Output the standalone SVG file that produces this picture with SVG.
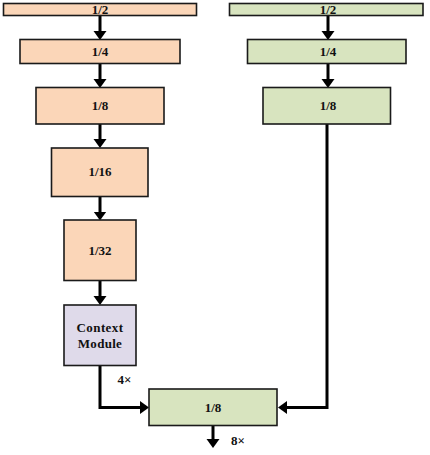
<svg xmlns="http://www.w3.org/2000/svg" width="430" height="455" viewBox="0 0 430 455">
<defs>
<marker id="ah" markerUnits="userSpaceOnUse" markerWidth="9" markerHeight="14" refX="1" refY="7" orient="auto" viewBox="0 0 9 14">
<path d="M0,0.5 L9,7 L0,13.5 Z" fill="#000"/>
</marker>
<style>
.or{fill:#FBD6B8;stroke:#1a1a1a;stroke-width:1.6}
.gr{fill:#D8E4BF;stroke:#1a1a1a;stroke-width:1.6}
.pu{fill:#DFDAEA;stroke:#1a1a1a;stroke-width:1.6}
text{font-family:'Liberation Serif','Times New Roman',serif;font-weight:bold;font-size:13px;fill:#111;text-anchor:middle}
.c{fill:none;stroke:#000;stroke-width:3;marker-end:url(#ah)}
</style>
</defs>
<rect width="430" height="455" fill="#fff"/>
<g id="connectors">
<path class="c" d="M100,15.5 V32"/>
<path class="c" d="M100,63.5 V80"/>
<path class="c" d="M100,124 V140"/>
<path class="c" d="M100,196.5 V212.5"/>
<path class="c" d="M100,281 V297"/>
<path class="c" d="M328,15.5 V32"/>
<path class="c" d="M328,63.5 V80"/>
<path class="c" d="M100,365.5 V407.5 H141"/>
<path class="c" d="M327,124 V407.5 H286"/>
<path class="c" d="M213,426 V440"/>
</g>
<g id="l12"><rect class="or" x="3.5" y="3.5" width="193" height="12"/><text x="100" y="14">1/2</text></g>
<g id="l14"><rect class="or" x="20" y="39.5" width="160" height="24"/><text x="100" y="56">1/4</text></g>
<g id="l18"><rect class="or" x="36" y="87.5" width="128" height="36.5"/><text x="100" y="110">1/8</text></g>
<g id="l116"><rect class="or" x="51.5" y="148" width="96.5" height="48.5"/><text x="100" y="176">1/16</text></g>
<g id="l132"><rect class="or" x="64" y="220" width="72" height="60.5"/><text x="100" y="255">1/32</text></g>
<g id="ctx"><rect class="pu" x="64" y="305" width="72" height="60.5"/><text x="100" y="332" letter-spacing="0.4">Context</text><text x="100" y="348" letter-spacing="0.3">Module</text></g>
<g id="r12"><rect class="gr" x="229.5" y="3.5" width="193.5" height="12"/><text x="328" y="14">1/2</text></g>
<g id="r14"><rect class="gr" x="247.5" y="39.5" width="158.5" height="24"/><text x="328" y="56">1/4</text></g>
<g id="r18"><rect class="gr" x="263" y="87.5" width="127.5" height="36.5"/><text x="328" y="110">1/8</text></g>
<g id="out"><rect class="gr" x="149" y="389" width="128" height="36.5"/><text x="213" y="412">1/8</text></g>
<text x="124.5" y="384">4×</text>
<text x="238" y="445">8×</text>
</svg>
